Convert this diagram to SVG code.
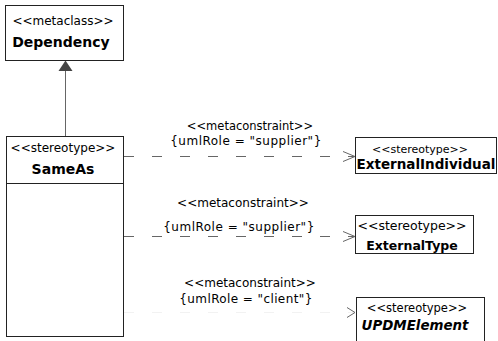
<svg xmlns="http://www.w3.org/2000/svg" width="498" height="341" viewBox="0 0 498 341">
<defs>
<style>
.box{fill:#fff;stroke:#222;stroke-width:1}
.st{font-family:"DejaVu Sans",Verdana,sans-serif;font-size:12px;fill:#000;text-anchor:middle}
.nm{font-family:"DejaVu Sans",Verdana,sans-serif;font-size:14px;font-weight:bold;fill:#000;text-anchor:middle}
.lbl{font-family:"DejaVu Sans",Verdana,sans-serif;font-size:12px;fill:#000;text-anchor:middle}
.dash{fill:none;stroke:#666;stroke-width:1;stroke-dasharray:10 18}
.arr{fill:none;stroke:#666;stroke-width:1}
</style>
</defs>
<rect width="498" height="341" fill="#fff"/>
<g id="connectors">
  <line x1="65.5" y1="70" x2="65.5" y2="136" stroke="#666" stroke-width="1"/>
  <polygon points="65.5,60.5 58.5,71 72.5,71" fill="#444"/>
  <line class="dash" x1="124" y1="156.5" x2="354" y2="156.5"/>
  <polyline class="arr" points="343,151.5 355,156.5 343,161.5"/>
  <line class="dash" x1="124" y1="236.5" x2="354" y2="236.5"/>
  <polyline class="arr" points="343,231.5 355,236.5 343,241.5"/>
  <line x1="124" y1="312.5" x2="354" y2="312.5" stroke="#f2f2f2" stroke-width="1" stroke-dasharray="10 18"/>
  <polyline class="arr" points="347,307.5 355,312.5 347,317.5"/>
  <text class="lbl" x="250" y="130" style="font-size:11.5px">&lt;&lt;metaconstraint&gt;&gt;</text>
  <text class="lbl" x="246" y="145" style="letter-spacing:0.5px">{umlRole = "supplier"}</text>
  <text class="lbl" x="243" y="207">&lt;&lt;metaconstraint&gt;&gt;</text>
  <text class="lbl" x="239" y="231" style="letter-spacing:0.5px">{umlRole = "supplier"}</text>
  <text class="lbl" x="250" y="287">&lt;&lt;metaconstraint&gt;&gt;</text>
  <text class="lbl" x="246" y="303" style="letter-spacing:0.4px">{umlRole = "client"}</text>
</g>
<g id="Dependency">
  <rect class="box" x="5.5" y="5.5" width="118" height="55"/>
  <text class="st" x="63" y="25">&lt;&lt;metaclass&gt;&gt;</text>
  <text class="nm" x="61" y="46.5">Dependency</text>
</g>
<g id="SameAs">
  <rect class="box" x="6.5" y="136.5" width="117" height="200"/>
  <line x1="6.5" y1="183.5" x2="123.5" y2="183.5" stroke="#222"/>
  <text class="st" x="63" y="152">&lt;&lt;stereotype&gt;&gt;</text>
  <text class="nm" x="63" y="174">SameAs</text>
</g>
<g id="ExternalIndividual">
  <rect class="box" x="355.5" y="137.5" width="141" height="36"/>
  <text class="st" x="420" y="152.5" style="font-size:11px">&lt;&lt;stereotype&gt;&gt;</text>
  <text class="nm" x="426" y="169" style="font-size:13.5px">ExternalIndividual</text>
</g>
<g id="ExternalType">
  <rect class="box" x="355.5" y="215.5" width="118" height="38"/>
  <text class="st" x="412" y="230" style="font-size:12.5px">&lt;&lt;stereotype&gt;&gt;</text>
  <text class="nm" x="412" y="250" style="font-size:12.5px">ExternalType</text>
</g>
<g id="UPDMElement">
  <rect class="box" x="356.5" y="297.5" width="128" height="50"/>
  <text class="st" x="417" y="312" style="font-size:11.5px">&lt;&lt;stereotype&gt;&gt;</text>
  <text class="nm" x="415" y="330" style="font-size:13.4px;font-style:italic">UPDMElement</text>
</g>
</svg>
